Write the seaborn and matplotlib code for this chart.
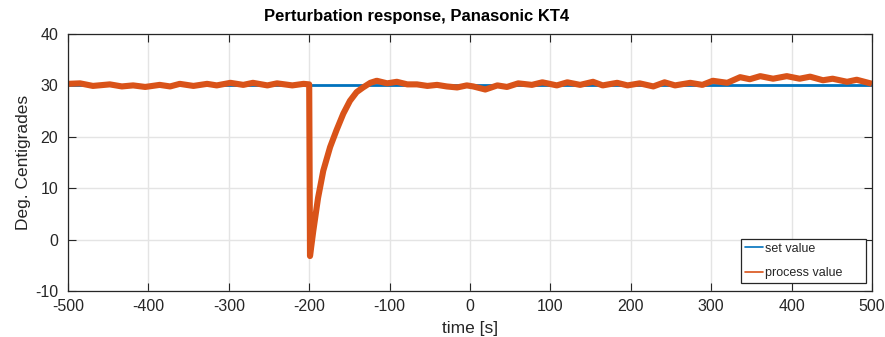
import matplotlib
matplotlib.use("Agg")
import matplotlib.pyplot as plt
from matplotlib.lines import Line2D
import seaborn as sns
import pandas as pd

# Temperature log around a step perturbation (time in seconds, degrees C)
time_s = [
    -500, -485, -469, -448, -433, -419, -404, -386, -373, -361, -344, -327,
    -315, -298, -282, -270, -252, -240, -221, -207, -200, -199, -195, -189,
    -182.5, -174, -166, -157.6, -149.3, -141, -133, -124, -116, -103, -91,
    -78, -66, -53, -41, -29, -16, -4, 4, 19, 34, 46, 60, 77, 90, 108, 121,
    137, 153, 165, 183, 196, 211, 228, 242, 255, 274, 289, 302, 320, 336,
    348, 361, 377, 394, 410, 423, 439, 451, 469, 481, 498, 500,
]
process_value = [
    30.3, 30.4, 29.9, 30.2, 29.8, 30.0, 29.7, 30.1, 29.8, 30.3, 29.9, 30.3,
    30.0, 30.5, 30.1, 30.5, 30.0, 30.4, 30.0, 30.3, 30.2, -3.2, 1.6, 8.1,
    13.4, 18.0, 21.3, 24.5, 27.0, 28.7, 29.6, 30.5, 30.9, 30.4, 30.7,
    30.2, 30.2, 29.9, 30.1, 29.8, 29.6, 30.0, 29.8, 29.2, 30.0, 29.7, 30.4,
    30.1, 30.6, 30.0, 30.6, 30.1, 30.7, 30.0, 30.5, 30.0, 30.4, 29.8, 30.6,
    30.0, 30.5, 30.1, 30.9, 30.5, 31.6, 31.2, 31.8, 31.3, 31.8, 31.3, 31.7,
    31.0, 31.3, 30.7, 31.1, 30.4, 30.3,
]
set_time_s = [-500, 500]
set_value = [30, 30]

x_ticks = [-500, -400, -300, -200, -100, 0, 100, 200, 300, 400, 500]
y_ticks = [-10, 0, 10, 20, 30, 40]

BLUE = "#0072BD"
ORANGE = "#D95319"
AXIS = "#262626"

sns.set_style("white")
plt.rcParams["font.family"] = ["Liberation Sans", "DejaVu Sans"]
plt.rcParams["axes.unicode_minus"] = False

fig = plt.figure(figsize=(8.85, 3.37), dpi=100)
ax = fig.add_axes([68 / 885, 1 - 291 / 337, (872 - 68) / 885, (291 - 34) / 337])

proc = pd.DataFrame({"t": time_s, "v": process_value})
setp = pd.DataFrame({"t": set_time_s, "v": set_value})

sns.lineplot(data=setp, x="t", y="v", ax=ax, color=BLUE, lw=2.0,
             estimator=None, legend=False)
sns.lineplot(data=proc, x="t", y="v", ax=ax, color=ORANGE, lw=4.4,
             estimator=None, legend=False, sort=False,
             solid_joinstyle="round", solid_capstyle="butt")

ax.set_xlim(-500, 500)
ax.set_ylim(-10, 40)
ax.set_xticks(x_ticks)
ax.set_yticks(y_ticks)
ax.grid(True, color="#e4e4e4", lw=1.0)
ax.set_axisbelow(True)

for side in ["left", "right", "top", "bottom"]:
    ax.spines[side].set_visible(True)
    ax.spines[side].set_color(AXIS)
    ax.spines[side].set_linewidth(0.9)

ax.tick_params(axis="both", which="both", direction="in", length=6,
               width=0.8, color=AXIS, labelcolor=AXIS, labelsize=11.5,
               top=True, right=True, bottom=True, left=True)
ax.tick_params(axis="x", pad=6)
ax.tick_params(axis="y", pad=7)

ax.set_xlabel("time [s]", fontsize=12.5, color=AXIS)
ax.set_ylabel("Deg. Centigrades", fontsize=12.5, color=AXIS)
ax.xaxis.set_label_coords(0.5, -0.115)
ax.yaxis.set_label_coords(-0.046, 0.5)
fig.text(417 / 885, 1 - 16 / 337, "Perturbation response, Panasonic KT4",
         ha="center", va="center", fontsize=12, fontweight="bold",
         color="black")

handles = [Line2D([0], [0], color=BLUE, lw=1.2),
           Line2D([0], [0], color=ORANGE, lw=1.2)]
leg = ax.legend(handles, ["set value", "process value"], loc="lower left",
                bbox_to_anchor=(0.837, 0.031, 0.1555, 0.171), mode="expand",
                borderaxespad=0, fontsize=9, handlelength=1.45,
                handletextpad=0.15, labelspacing=1.0, borderpad=0.32,
                fancybox=False, framealpha=1, edgecolor=AXIS)
leg.get_frame().set_linewidth(0.9)

fig.savefig("out.png", dpi=100)
